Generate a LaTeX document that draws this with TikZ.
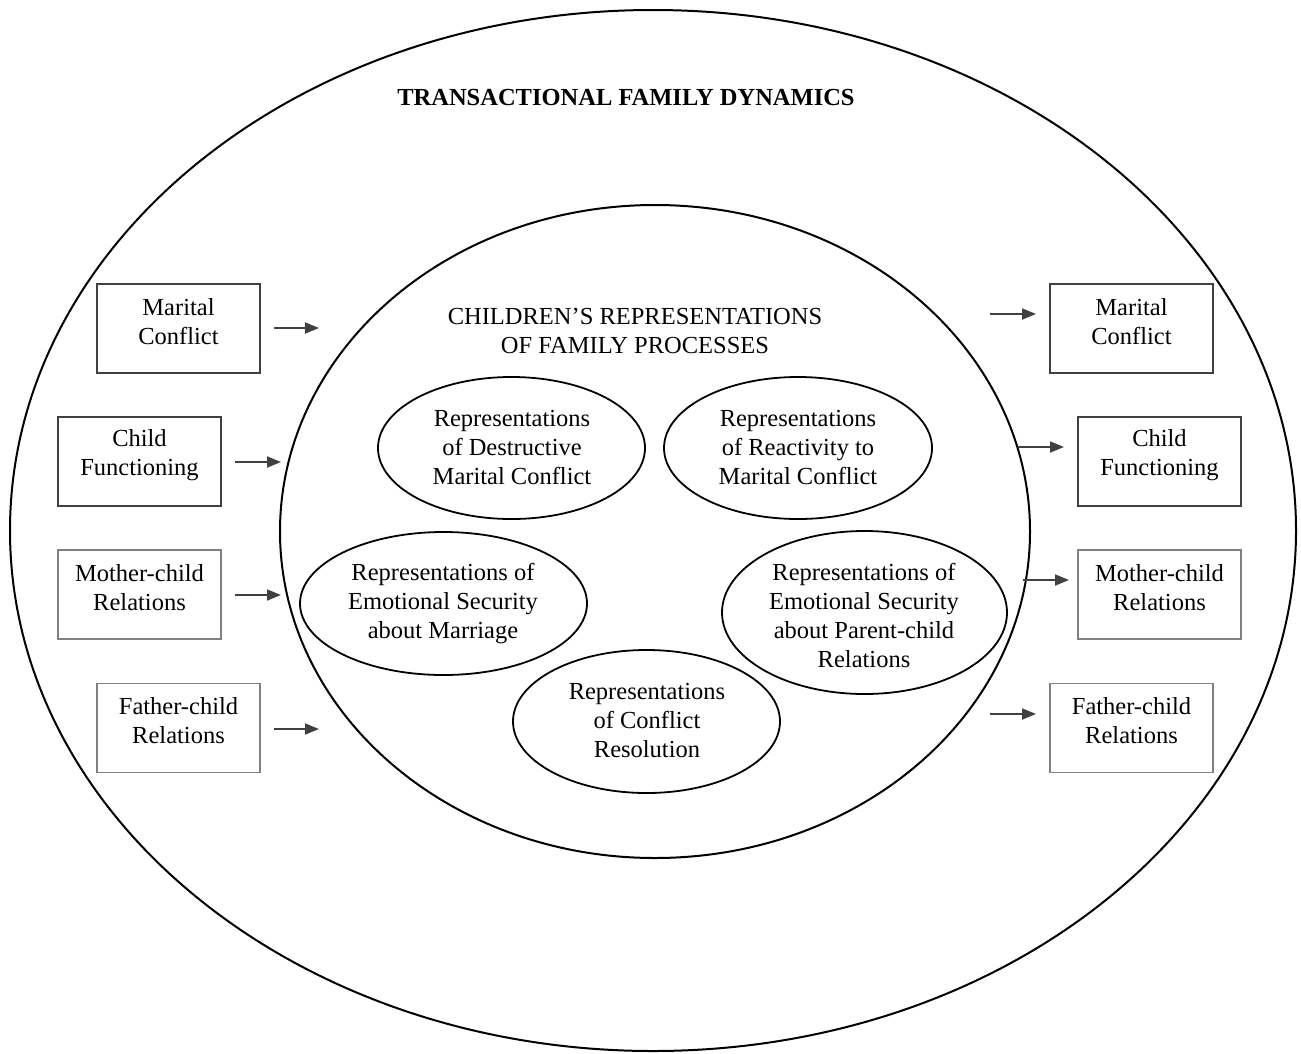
\documentclass[tikz,border=0pt]{standalone}
\usepackage{fontspec}
\setmainfont{Liberation Serif}
\usetikzlibrary{shapes.geometric,arrows.meta}
\begin{document}
\begin{tikzpicture}[x=1pt,y=-1pt,
  txt/.style={font=\fontsize{24.5}{29}\selectfont, align=center, inner sep=0pt},
  oval/.style={draw=black, line width=1.8pt, ellipse, inner sep=0pt},
  boxdark/.style={draw=black!75, line width=1.8pt, rectangle, minimum width=163pt, minimum height=89pt, inner sep=0pt},
  boxgrey/.style={draw=black!50, line width=1.5pt, rectangle, minimum width=163pt, minimum height=89pt, inner sep=0pt},
  arr/.style={draw=black!75, line width=1.8pt, -{Triangle[length=14pt,width=11pt]}}
]
\useasboundingbox (0,0) rectangle (1301,1053);
% outer and inner ellipses
\node[draw, line width=2pt, ellipse, minimum width=1286pt, minimum height=1041pt, inner sep=0pt] (outer) at (653,530.5) {};
\node[txt, font=\fontsize{24.5}{29}\selectfont\bfseries] (ttl) at (626,98) {TRANSACTIONAL FAMILY DYNAMICS};
\node[draw, line width=2pt, ellipse, minimum width=750pt, minimum height=653pt, inner sep=0pt] (inner) at (655,531.5) {};
\node[txt] (ititle) at (635,331) {CHILDREN’S REPRESENTATIONS\\OF FAMILY PROCESSES};
% small ellipses
\node[oval, minimum width=267pt, minimum height=142pt] (e1) at (511.5,448) {};
\node[txt] (t1) at (512,447) {Representations\\of Destructive\\Marital Conflict};
\node[oval, minimum width=268pt, minimum height=142pt] (e2) at (798,448) {};
\node[txt] (t2) at (798,447) {Representations\\of Reactivity to\\Marital Conflict};
\node[oval, minimum width=287pt, minimum height=143pt] (e3) at (443.5,603.5) {};
\node[txt] (t3) at (443,604) {Representations of\\Emotional Security\\about Marriage};
\node[oval, minimum width=285pt, minimum height=163pt] (e4) at (864.5,612.5) {};
\node[txt] (t4) at (864,615) {Representations of\\Emotional Security\\about Parent-child\\Relations};
\node[oval, minimum width=267pt, minimum height=143pt] (e5) at (646.5,721.5) {};
\node[txt] (t5) at (647,720) {Representations\\of Conflict\\Resolution};
% left boxes
\node[boxdark] (lmc) at (178.5,328.5) {};
\node[txt] (lmct) at ([yshift=7pt]lmc.center) {Marital\\Conflict};
\node[boxdark] (lcf) at (139.5,461.5) {};
\node[txt] (lcft) at ([yshift=6pt]lcf.center) {Child\\Functioning};
\node[boxgrey] (lmo) at (139.5,594.5) {};
\node[txt] (lmot) at ([yshift=7pt]lmo.center) {Mother-child\\Relations};
\node[boxgrey] (lfa) at (178.5,728) {};
\node[txt] (lfat) at ([yshift=7pt]lfa.center) {Father-child\\Relations};
% right boxes
\node[boxdark] (rmc) at (1131.5,328.5) {};
\node[txt] (rmct) at ([yshift=7pt]rmc.center) {Marital\\Conflict};
\node[boxdark] (rcf) at (1159.5,461.5) {};
\node[txt] (rcft) at ([yshift=6pt]rcf.center) {Child\\Functioning};
\node[boxgrey] (rmo) at (1159.5,594.5) {};
\node[txt] (rmot) at ([yshift=7pt]rmo.center) {Mother-child\\Relations};
\node[boxgrey] (rfa) at (1131.5,728) {};
\node[txt] (rfat) at ([yshift=7pt]rfa.center) {Father-child\\Relations};
% arrow end coordinates
\coordinate (a1s) at (274,328); \coordinate (a1e) at (319,328);
\coordinate (a2s) at (235,462); \coordinate (a2e) at (281,462);
\coordinate (a3s) at (235,595); \coordinate (a3e) at (281,595);
\coordinate (a4s) at (274,729); \coordinate (a4e) at (319,729);
\coordinate (b1s) at (990,314); \coordinate (b1e) at (1036,314);
\coordinate (b2s) at (1018,447); \coordinate (b2e) at (1064,447);
\coordinate (b3s) at (1023,580); \coordinate (b3e) at (1069,580);
\coordinate (b4s) at (990,714); \coordinate (b4e) at (1036,714);
\draw[arr] (a1s) -- (a1e);
\draw[arr] (a2s) -- (a2e);
\draw[arr] (a3s) -- (a3e);
\draw[arr] (a4s) -- (a4e);
\draw[arr] (b1s) -- (b1e);
\draw[arr] (b2s) -- (b2e);
\draw[arr] (b3s) -- (b3e);
\draw[arr] (b4s) -- (b4e);
\end{tikzpicture}
\end{document}
